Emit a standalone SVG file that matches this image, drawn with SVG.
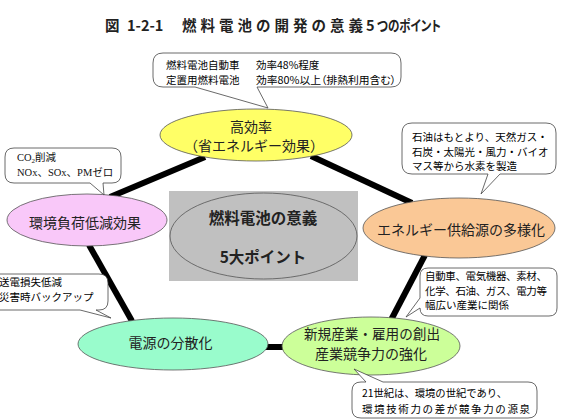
<svg xmlns="http://www.w3.org/2000/svg" width="561" height="420" viewBox="0 0 561 420">
<style>
.jp{font-family:"Noto Sans CJK JP","Noto Sans",sans-serif;fill:#222}
.lbl{font-size:14px;text-anchor:middle}
.ctr{font-size:15.5px;font-weight:bold;text-anchor:middle;fill:#222}
.co{font-size:10.5px;fill:#000}
.callout{fill:#fff;stroke:#444;stroke-width:0.8}
.node{stroke:#555;stroke-width:0.8}
.edge{stroke:#000;stroke-width:6;stroke-linecap:butt;fill:none}
</style>
<rect width="561" height="420" fill="#fff"/>
<g id="title">
<text class="jp" y="31" font-size="14.5" font-weight="bold" fill="#111"><tspan x="105">図</tspan><tspan x="127">1-2-1</tspan><tspan x="182" textLength="181" lengthAdjust="spacing">燃料電池の開発の意義</tspan><tspan x="366">5</tspan><tspan x="377" style="font-feature-settings:'palt'" textLength="64" lengthAdjust="spacingAndGlyphs">つのポイント</tspan></text>
</g>
<g id="connectors">
<line class="edge" x1="205" y1="157" x2="110" y2="197"/>
<line class="edge" x1="311" y1="156" x2="412" y2="203"/>
<line class="edge" x1="425" y1="255" x2="391" y2="320"/>
<line class="edge" x1="89" y1="245" x2="132" y2="321"/>
<line class="edge" x1="262" y1="347" x2="287" y2="347"/>
</g>
<g id="center">
<rect x="169" y="191" width="189" height="90" fill="#c0c0c0"/>
<ellipse class="node" cx="263.5" cy="236" rx="93.5" ry="43" fill="#c0c0c0"/>
<text class="jp ctr" x="263" y="224">燃料電池の意義</text>
<text class="jp ctr" x="263" y="263" font-size="14.5">5大ポイント</text>
</g>
<g id="n-efficiency">
<ellipse class="node" cx="256" cy="135" rx="96" ry="26" fill="#ffff66"/>
<text class="jp lbl" x="251" y="131.5">高効率</text>
<text class="jp lbl" x="254" y="151" font-size="10">（省エネルギー効果）</text>
</g>
<g id="n-energy">
<ellipse class="node" cx="459" cy="228" rx="96" ry="30" fill="#fac896"/>
<text class="jp lbl" x="461" y="235">エネルギー供給源の多様化</text>
</g>
<g id="n-environment">
<ellipse class="node" cx="87" cy="220" rx="80" ry="26" fill="#f9c8f9"/>
<text class="jp lbl" x="85" y="228" font-size="14.5">環境負荷低減効果</text>
</g>
<g id="n-distributed">
<ellipse class="node" cx="173" cy="344" rx="95" ry="26" fill="#99fccc"/>
<text class="jp lbl" x="170.5" y="348">電源の分散化</text>
</g>
<g id="n-industry">
<ellipse class="node" cx="371" cy="346" rx="89" ry="29" fill="#ccff99"/>
<text class="jp lbl" x="372" y="339" font-size="13.5" textLength="136" lengthAdjust="spacingAndGlyphs">新規産業・雇用の創出</text>
<text class="jp lbl" x="371" y="359" font-size="13.5" textLength="112" lengthAdjust="spacingAndGlyphs">産業競争力の強化</text>
</g>
<g id="c-efficiency">
<path class="callout" d="M163,53 H391 Q401,53 401,63 V77 Q401,87 391,87 H257 L268,108 L195,87 H163 Q153,87 153,77 V63 Q153,53 163,53 Z"/>
<text class="jp co" y="68.5" font-size="11"><tspan x="166">燃料電池自動車</tspan><tspan x="256">効率48%程度</tspan></text>
<text class="jp co" y="83.5" font-size="11"><tspan x="166">定置用燃料電池</tspan><tspan x="256" style="font-feature-settings:'palt'" textLength="140" lengthAdjust="spacingAndGlyphs">効率80%以上（排熱利用含む）</tspan></text>
</g>
<g id="c-energy">
<path class="callout" d="M412,123 H546 Q556,123 556,133 V164 Q556,174 546,174 H500 L481,194 L488,174 H412 Q402,174 402,164 V133 Q402,123 412,123 Z"/>
<text class="jp co" x="412" y="141" font-size="10">石油はもとより、天然ガス・</text>
<text class="jp co" x="412" y="155.5" font-size="10">石炭・太陽光・風力・バイオ</text>
<text class="jp co" x="412" y="170" font-size="10">マス等から水素を製造</text>
</g>
<g id="c-environment">
<path class="callout" d="M14,148 H112 Q121,148 121,157 V174 Q121,183 112,183 H103 L104,195 L90,183 H14 Q5,183 5,174 V157 Q5,148 14,148 Z"/>
<text x="17" y="161" font-size="10.5" fill="#111" font-family="'Liberation Serif','Noto Sans CJK JP',serif">CO<tspan font-size="7" dy="2">2</tspan><tspan dy="-2">削減</tspan></text>
<text x="17" y="175.5" font-size="10.5" fill="#111" font-family="'Liberation Serif','Noto Sans CJK JP',serif">NOx、SOx、PMゼロ</text>
</g>
<g id="c-distributed">
<path class="callout" d="M-12,274 H99 Q108,274 108,283 V301 Q108,310 99,310 H96 L111,318 L80,310 H-12 Z"/>
<text class="jp co" x="-1" y="286" font-size="10">送電損失低減</text>
<text class="jp co" x="-1" y="300.5" font-size="10">災害時バックアップ</text>
</g>
<g id="c-industry">
<path class="callout" d="M428,268 H549 Q557,268 557,276 V308 Q557,316 549,316 H428 Q420,316 420,308 L406,317 L420,298 V276 Q420,268 428,268 Z"/>
<text class="jp co" x="425" y="280" font-size="10" textLength="122" lengthAdjust="spacing">自動車、電気機器、素材、</text>
<text class="jp co" x="425" y="294.5" font-size="10" textLength="122" lengthAdjust="spacing">化学、石油、ガス、電力等</text>
<text class="jp co" x="425" y="309" font-size="10">幅広い産業に関係</text>
</g>
<g id="c-competitiveness">
<path class="callout" d="M361,382 H366 L354,369 L383,382 H528 Q537,382 537,391 V409 Q537,418 528,418 H361 Q352,418 352,409 V391 Q352,382 361,382 Z"/>
<text class="jp co" x="362" y="396.5" font-size="10.5" textLength="145" lengthAdjust="spacingAndGlyphs">21世紀は、環境の世紀であり、</text>
<text class="jp co" x="362" y="412.5" font-size="10.5" textLength="168" lengthAdjust="spacing">環境技術力の差が競争力の源泉</text>
</g>
</svg>
